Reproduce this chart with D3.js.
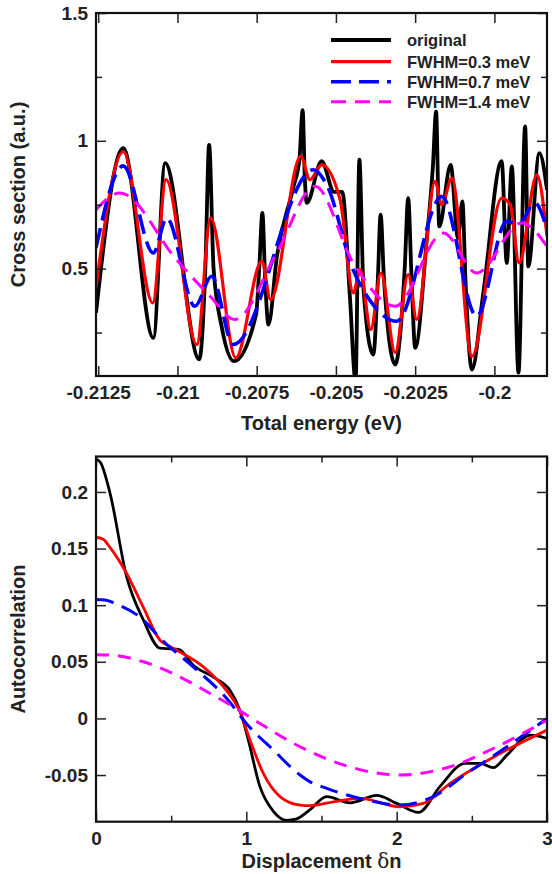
<!DOCTYPE html>
<html><head><meta charset="utf-8">
<script src="https://cdn.jsdelivr.net/npm/d3@7"></script>
<style>
body{margin:0;background:#fff}
text{font-family:"Liberation Sans",Arial,Helvetica,sans-serif;font-weight:bold;fill:#222}
</style>
</head><body>
<svg id="c" width="552" height="874"></svg>
<script>
// ---------- Top panel data (energy in eV, cross section in a.u.) ----------
const origE = [-0.21257,-0.21171,-0.21076,-0.21039,-0.20931,-0.20912,-0.20900,-0.20886,-0.20860,-0.20822,-0.20752,-0.20742,-0.20732,-0.20723,-0.20713,-0.20686,-0.20634,-0.20615,-0.20605,-0.20598,-0.20592,-0.20545,-0.20506,-0.20480,-0.20456,-0.20438,-0.20426,-0.20413,-0.20382,-0.20368,-0.20359,-0.20348,-0.20313,-0.20283,-0.20272,-0.20261,-0.20250,-0.20213,-0.20194,-0.20184,-0.20174,-0.20138,-0.20115,-0.20101,-0.20091,-0.20071,-0.20035,-0.19977,-0.19961,-0.19945,-0.19924,-0.19903,-0.19893,-0.19858,-0.19834];
const origCS = [0.327,0.971,0.229,0.913,0.145,0.50,0.984,0.50,0.27,0.138,0.32,0.50,0.718,0.45,0.281,0.55,0.82,0.93,1.12,0.85,0.757,0.92,0.80,0.80,0.392,0.06,0.926,0.42,0.164,0.45,0.711,0.45,0.125,0.50,0.776,0.45,0.19,0.62,0.90,1.114,0.665,0.906,0.62,0.763,0.45,0.105,0.405,0.92,0.522,0.90,0.093,1.056,0.509,0.952,0.809];

const f03E = [-0.21257,-0.21171,-0.21078,-0.21036,-0.20939,-0.20895,-0.20816,-0.20734,-0.20706,-0.20611,-0.20582,-0.20545,-0.20487,-0.20445,-0.20424,-0.20390,-0.20358,-0.20313,-0.20272,-0.20245,-0.20187,-0.20166,-0.20134,-0.20071,-0.19977,-0.19950,-0.19922,-0.19866,-0.19834];
const f03CS = [0.426,0.958,0.366,0.848,0.203,0.698,0.151,0.529,0.379,0.939,0.848,0.906,0.770,0.405,0.496,0.262,0.483,0.171,0.477,0.301,0.841,0.750,0.854,0.157,0.776,0.750,0.522,0.867,0.626];

const f07E = [-0.21257,-0.21171,-0.21076,-0.21034,-0.20945,-0.20892,-0.20824,-0.20571,-0.20529,-0.20446,-0.20387,-0.20308,-0.20166,-0.20056,-0.19961,-0.19924,-0.19872,-0.19834];
const f07CS = [0.581,0.902,0.561,0.698,0.353,0.470,0.203,0.887,0.828,0.496,0.366,0.294,0.782,0.314,0.685,0.672,0.757,0.652];

const f14E = [-0.21257,-0.21182,-0.21003,-0.20897,-0.20819,-0.20687,-0.20566,-0.20445,-0.20313,-0.20161,-0.20056,-0.19914,-0.19834];
const f14CS = [0.730,0.796,0.535,0.392,0.301,0.561,0.822,0.522,0.353,0.639,0.483,0.679,0.587];

const topXTicks = [-0.2125,-0.21,-0.2075,-0.205,-0.2025,-0.2];
const topXLabels = ["-0.2125","-0.21","-0.2075","-0.205","-0.2025","-0.2"];
const topYTicks = [0.5,1,1.5];
const topYLabels = ["0.5","1","1.5"];
const topYMinor = [0.25,0.75,1.25];

// ---------- Bottom panel data (displacement δn, autocorrelation) ----------
const acOrigX = [0,0.03,0.093,0.204,0.315,0.426,0.50,0.55,0.647,0.80,0.89,0.957,1.013,1.09,1.18,1.268,1.33,1.42,1.535,1.69,1.867,2.0,2.145,2.289,2.455,2.555,2.643,2.733,2.888,3.0];
const acOrigY = [0.229,0.226,0.199,0.125,0.087,0.062,0.0615,0.061,0.047,0.035,0.025,0.0073,-0.019,-0.060,-0.082,-0.090,-0.089,-0.081,-0.069,-0.0745,-0.068,-0.075,-0.083,-0.060,-0.0397,-0.0397,-0.0435,-0.0324,-0.0147,-0.0176];

const ac03X = [0,0.05,0.093,0.204,0.315,0.426,0.50,0.714,0.847,0.957,1.024,1.113,1.224,1.357,1.424,1.58,1.756,2.023,2.178,2.355,2.688,3.0];
const ac03Y = [0.160,0.158,0.151,0.128,0.098,0.069,0.063,0.0455,0.028,0.006,-0.019,-0.0485,-0.069,-0.0765,-0.077,-0.0736,-0.0706,-0.078,-0.075,-0.0574,-0.031,-0.0103];

const ac07X = [0,0.06,0.137,0.315,0.426,0.647,0.87,1.0,1.18,1.357,1.424,1.535,1.8,2.023,2.245,2.467,2.733,3.0];
const ac07Y = [0.105,0.1045,0.101,0.087,0.071,0.0455,0.0176,-0.0044,-0.028,-0.050,-0.056,-0.0618,-0.072,-0.0765,-0.069,-0.0485,-0.025,0.0];

const ac14X = [0,0.115,0.315,0.537,0.759,0.914,1.09,1.357,1.645,2.023,2.355,2.688,3.0];
const ac14Y = [0.0562,0.0557,0.050,0.038,0.022,0.0103,-0.0044,-0.025,-0.041,-0.050,-0.0427,-0.0236,-0.0015];

const botXTicks = [0,1,2,3];
const botXMinor = [0.5,1.5,2.5];
const botYTicks = [-0.05,0,0.05,0.1,0.15,0.2];
const botYLabels = ["-0.05","0","0.05","0.1","0.15","0.2"];

const legendLabels = ["original","FWHM=0.3 meV","FWHM=0.7 meV","FWHM=1.4 meV"];

// ---------- drawing ----------
const svg = d3.select("#c");
const L = 96, R = 547;
const styles = [
  {color:"#000000", width:3.8, dash:null},
  {color:"#ff0000", width:3.2, dash:null},
  {color:"#0000ff", width:3.6, dash:"20,8"},
  {color:"#ff00ff", width:3, dash:"15,9"}
];
const stylesB = [
  {color:"#000000", width:2.8, dash:null},
  {color:"#ff0000", width:2.8, dash:null},
  {color:"#0000ff", width:3, dash:"18,9"},
  {color:"#ff00ff", width:3, dash:"13,9"}
];

function panel(id, x, y, top, bottom, series, sty, xt, xl, xminor, yt, yl, yminor, xpad){
  const defs = svg.append("defs");
  defs.append("clipPath").attr("id", id).append("rect")
    .attr("x", L).attr("y", top).attr("width", R-L).attr("height", bottom-top);
  const g = svg.append("g").attr("clip-path", `url(#${id})`);
  series.forEach((s,i)=>{
    const pts = s[0].map((v,j)=>[v, s[1][j]]);
    const line = d3.line().x(d=>x(d[0])).y(d=>y(d[1])).curve(d3.curveMonotoneX);
    g.append("path").attr("d", line(pts)).attr("fill","none")
      .attr("stroke", sty[i].color).attr("stroke-width", sty[i].width)
      .attr("stroke-dasharray", sty[i].dash).attr("stroke-linejoin","round");
  });
  const ax = svg.append("g");
  ax.append("g").attr("transform",`translate(0,${bottom})`)
    .call(d3.axisBottom(x).tickValues(xt).tickSize(-10).tickPadding(xpad).tickFormat((d,i)=>xl[i]));
  ax.append("g").attr("transform",`translate(0,${top})`)
    .call(d3.axisTop(x).tickValues(xt).tickSize(-10).tickFormat(""));
  if (xminor){
    ax.append("g").attr("transform",`translate(0,${bottom})`).call(d3.axisBottom(x).tickValues(xminor).tickSize(-6).tickFormat(""));
    ax.append("g").attr("transform",`translate(0,${top})`).call(d3.axisTop(x).tickValues(xminor).tickSize(-6).tickFormat(""));
  }
  ax.append("g").attr("transform",`translate(${L},0)`)
    .call(d3.axisLeft(y).tickValues(yt).tickSize(-10).tickPadding(8).tickFormat((d,i)=>yl[i]));
  ax.append("g").attr("transform",`translate(${R},0)`)
    .call(d3.axisRight(y).tickValues(yt).tickSize(-10).tickFormat(""));
  if (yminor){
    ax.append("g").attr("transform",`translate(${L},0)`).call(d3.axisLeft(y).tickValues(yminor).tickSize(-6).tickFormat(""));
    ax.append("g").attr("transform",`translate(${R},0)`).call(d3.axisRight(y).tickValues(yminor).tickSize(-6).tickFormat(""));
  }
  ax.selectAll(".domain").remove();
  ax.selectAll(".tick line").attr("stroke","#222").attr("stroke-width",1.5);
  ax.selectAll(".tick text").attr("font-size",19).attr("font-family",null).attr("fill","#222");
  svg.append("rect").attr("x",L).attr("y",top).attr("width",R-L).attr("height",bottom-top)
    .attr("fill","none").attr("stroke","#111").attr("stroke-width",2.2);
}

// top panel
const xT = d3.scaleLinear().domain([-0.21257,-0.19834]).range([L,R]);
const yT = d3.scaleLinear().domain([0.08,1.5]).range([376,13]);
panel("clipTop", xT, yT, 13, 376,
  [[origE,origCS],[f03E,f03CS],[f07E,f07CS],[f14E,f14CS]], styles,
  topXTicks, topXLabels, null, topYTicks, topYLabels, topYMinor, 10);

// legend
const legY = [40, 61.7, 81.7, 101.7];
legendLabels.forEach((lab,i)=>{
  svg.append("line").attr("x1",331).attr("x2",391).attr("y1",legY[i]).attr("y2",legY[i])
    .attr("stroke",styles[i].color).attr("stroke-width",styles[i].width)
    .attr("stroke-dasharray",styles[i].dash);
  svg.append("text").attr("x",407).attr("y",legY[i]+6).attr("font-size",16.5).text(lab);
});

svg.append("text").attr("x",(L+R)/2).attr("y",430).attr("text-anchor","middle")
  .attr("font-size",20).text("Total energy (eV)");
svg.append("text").attr("transform",`translate(25,${(13+376)/2}) rotate(-90)`)
  .attr("text-anchor","middle").attr("font-size",20).text("Cross section (a.u.)");

// bottom panel
const xB = d3.scaleLinear().domain([0,3]).range([L,R]);
const yB = d3.scaleLinear().domain([-0.0912,0.2313]).range([821.7,456.5]);
panel("clipBot", xB, yB, 456.5, 821.7,
  [[acOrigX,acOrigY],[ac03X,ac03Y],[ac07X,ac07Y],[ac14X,ac14Y]], stylesB,
  botXTicks, botXTicks.map(String), botXMinor, botYTicks, botYLabels, null, 10);

const xl = svg.append("text").attr("x",(L+R)/2).attr("y",868).attr("text-anchor","middle").attr("font-size",20);
xl.append("tspan").text("Displacement ");
xl.append("tspan").attr("font-weight","normal").attr("font-family","DejaVu Serif, serif").text("δ");
xl.append("tspan").text("n");
svg.append("text").attr("transform",`translate(25,${(456.5+821.7)/2}) rotate(-90)`)
  .attr("text-anchor","middle").attr("font-size",20).text("Autocorrelation");
</script>
</body></html>
